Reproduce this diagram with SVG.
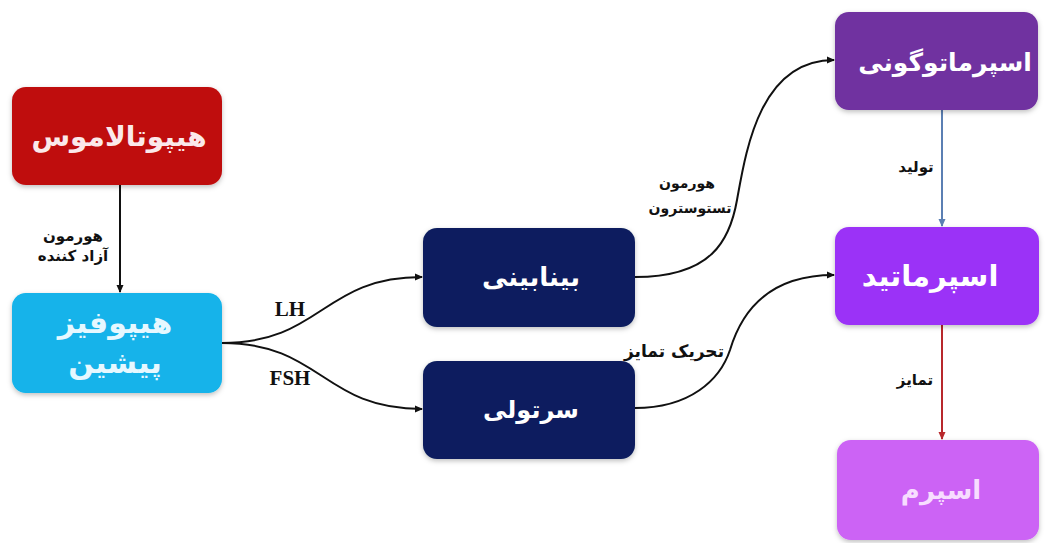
<svg xmlns="http://www.w3.org/2000/svg" width="1047" height="543" viewBox="0 0 1047 543">
<style>
.box{filter:url(#sh)}
.nt{font-family:"DejaVu Sans",sans-serif;font-weight:bold;font-size:30px;text-anchor:middle;dominant-baseline:central}
.lb{font-family:"DejaVu Sans",sans-serif;font-weight:bold;font-size:15px;text-anchor:middle;fill:#111;dominant-baseline:central}
.en{font-family:"Liberation Serif",serif;font-weight:bold;font-size:21px;text-anchor:middle;fill:#111;dominant-baseline:central}
.cn{fill:none;stroke:#111;stroke-width:2}
</style>
<defs>
<filter id="sh" x="-10%" y="-10%" width="120%" height="130%">
<feDropShadow dx="0" dy="2" stdDeviation="2.5" flood-color="#000" flood-opacity="0.25"/>
</filter>
<marker id="ak" markerWidth="8" markerHeight="8" refX="7" refY="4" orient="auto" markerUnits="userSpaceOnUse"><path d="M0,0.5 L8,4 L0,7.5 z" fill="#111"/></marker>
<marker id="ab" markerWidth="8" markerHeight="8" refX="7" refY="4" orient="auto" markerUnits="userSpaceOnUse"><path d="M0,0.5 L8,4 L0,7.5 z" fill="#5b7fb3"/></marker>
<marker id="ar" markerWidth="8" markerHeight="8" refX="7" refY="4" orient="auto" markerUnits="userSpaceOnUse"><path d="M0,0.5 L8,4 L0,7.5 z" fill="#b8282c"/></marker>
</defs>
<rect width="1047" height="543" fill="#fff"/>
<g id="connectors">
<path class="cn" d="M120,185 L120,292" marker-end="url(#ak)"/>
<path class="cn" d="M222,343 C322,343 322,277 422,277" marker-end="url(#ak)"/>
<path class="cn" d="M222,343 C322,343 322,409 422,409" marker-end="url(#ak)"/>
<path class="cn" d="M635,277 C712,277 730,240 737,200 C746,150 760,60 834,60" marker-end="url(#ak)"/>
<path class="cn" d="M635,408 C690,408 720,380 730,350 C742,310 770,275 834,275" marker-end="url(#ak)"/>
<path d="M942,110 L942,226" fill="none" stroke="#5b7fb3" stroke-width="2" marker-end="url(#ab)"/>
<path d="M942,325 L942,439" fill="none" stroke="#b8282c" stroke-width="2" marker-end="url(#ar)"/>
<text class="lb" x="73" y="236">هورمون</text>
<text class="lb" x="73" y="256">آزاد کننده</text>
<text class="en" x="290" y="309">LH</text>
<text class="en" x="290" y="378">FSH</text>
<text class="lb" x="687" y="183" style="font-size:14px">هورمون</text>
<text class="lb" x="690" y="208" style="font-size:14px">تستوسترون</text>
<text class="lb" x="674" y="351" style="font-size:17px">تحریک تمایز</text>
<text class="lb" x="916" y="167">تولید</text>
<text class="lb" x="915" y="380">تمایز</text>
</g>
<g id="hypothalamus">
<rect class="box" x="12" y="87" width="210" height="98" rx="14" fill="#bf0a0d"/>
<text class="nt" x="119" y="136" fill="#fbe9ea" style="font-size:28px">هیپوتالاموس</text>
</g>
<g id="hypophysis">
<rect class="box" x="12" y="293" width="210" height="100" rx="14" fill="#12b3ea"/>
<text class="nt" x="115" y="322" fill="#e6f8ff">هیپوفیز</text>
<text class="nt" x="115" y="362" fill="#e6f8ff">پیشین</text>
</g>
<g id="interstitial">
<rect class="box" x="423" y="228" width="212" height="99" rx="14" fill="#0b1f5e"/>
<text class="nt" x="531" y="277" fill="#ffffff" style="font-size:26px">بینابینی</text>
</g>
<g id="sertoli">
<rect class="box" x="423" y="361" width="212" height="98" rx="14" fill="#0b1f5e"/>
<text class="nt" x="531" y="410" fill="#ffffff" style="font-size:24px">سرتولی</text>
</g>
<g id="spermatogonia">
<rect class="box" x="835" y="12" width="203" height="98" rx="14" fill="#7030a0"/>
<text class="nt" x="945" y="62" fill="#ffffff" style="font-size:25px">اسپرماتوگونی</text>
</g>
<g id="spermatid">
<rect class="box" x="835" y="227" width="204" height="98" rx="14" fill="#9b33f7"/>
<text class="nt" x="930" y="276" fill="#ffffff" style="font-size:29px">اسپرماتید</text>
</g>
<g id="sperm">
<rect class="box" x="837" y="440" width="202" height="100" rx="14" fill="#cc63f5"/>
<text class="nt" x="941" y="490" fill="#f7ddff" style="font-size:26px">اسپرم</text>
</g>
</svg>
